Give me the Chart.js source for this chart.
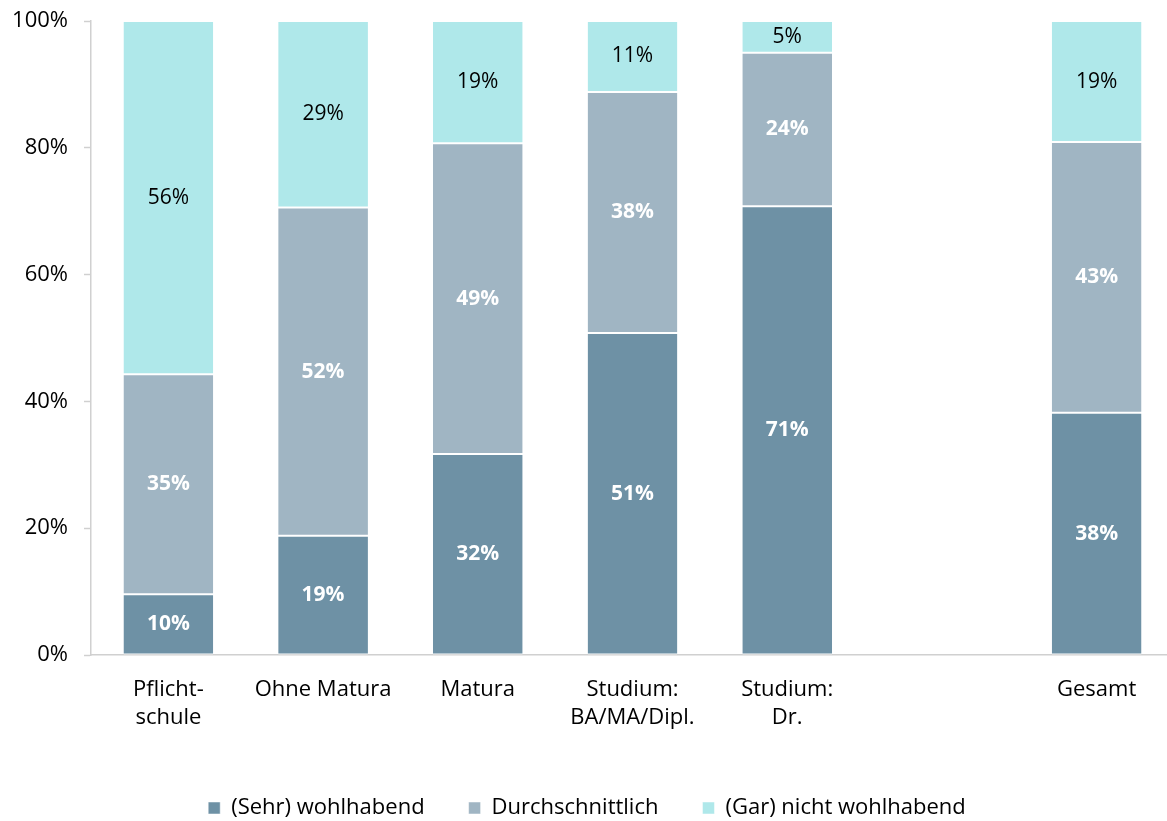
<!DOCTYPE html>
<html>
<head>
<meta charset="utf-8">
<script src="https://cdn.jsdelivr.net/npm/chart.js@4.4.1/dist/chart.umd.min.js"></script>
<style>
  html, body { margin: 0; padding: 0; background: #fff; overflow: hidden; }
  #wrap { width: 1175px; height: 829px; }
</style>
</head>
<body>
<div id="wrap"><canvas id="myChart"></canvas></div>
<script>
const kategorien = [["Pflicht-", "schule"], "Ohne Matura", "Matura", ["Studium:", "BA/MA/Dipl."], ["Studium:", "Dr."], "", "Gesamt"];
const wohlhabend = [9.6, 18.8, 31.7, 50.8, 70.8, null, 38.2];
const durchschnitt = [34.7, 51.8, 49.0, 38.0, 24.2, null, 42.7];
const nichtWohlhabend = [55.7, 29.4, 19.3, 11.2, 5.0, null, 19.1];
const yTicks = [0, 20, 40, 60, 80, 100];

const schrift = "'Open Sans', sans-serif";
const ctx = document.getElementById("myChart");

// eigene Beschriftung der Segmente (kein datalabels-Plugin verfuegbar)
const wertLabels = {
  id: "wertLabels",
  afterDatasetsDraw(chart) {
    const c = chart.ctx;
    chart.data.datasets.forEach((ds, i) => {
      const meta = chart.getDatasetMeta(i);
      meta.data.forEach((bar, j) => {
        const v = ds.data[j];
        if (v == null) return;
        c.save();
        c.textAlign = "center";
        c.textBaseline = "middle";
        if (i < 2) {
          c.fillStyle = "#ffffff";
          c.font = "bold 21px " + schrift;
        } else {
          c.fillStyle = "#000000";
          c.font = "21px " + schrift;
        }
        c.fillText(Math.round(v) + "%", bar.x, (bar.y + bar.base) / 2);
        c.restore();
      });
    });
  }
};

const rand = { top: 1, bottom: 1, left: 0, right: 0 };

new Chart(ctx, {
  type: "bar",
  data: {
    labels: kategorien,
    datasets: [
      { label: "(Sehr) wohlhabend", data: wohlhabend, backgroundColor: "#6E91A5", borderColor: "#ffffff", borderWidth: rand, borderSkipped: false },
      { label: "Durchschnittlich", data: durchschnitt, backgroundColor: "#A0B5C3", borderColor: "#ffffff", borderWidth: rand, borderSkipped: false },
      { label: "(Gar) nicht wohlhabend", data: nichtWohlhabend, backgroundColor: "#AFE8EA", borderColor: "#ffffff", borderWidth: rand, borderSkipped: false }
    ]
  },
  options: {
    responsive: true,
    maintainAspectRatio: false,
    animation: false,
    barPercentage: 0.58,
    categoryPercentage: 1.0,
    layout: { padding: { top: 21, right: 1, left: 0, bottom: 0 } },
    plugins: {
      tooltip: { enabled: false },
      legend: {
        position: "bottom",
        labels: {
          color: "#000",
          font: { size: 22, family: schrift },
          boxWidth: 12,
          boxHeight: 12,
          padding: 44
        }
      }
    },
    scales: {
      x: {
        stacked: true,
        grid: { display: false, drawTicks: false },
        border: { color: "#D0D0D0", width: 1.5 },
        ticks: {
          color: "#000",
          font: { size: 22, family: schrift, lineHeight: 1.25 },
          padding: 21,
          maxRotation: 0,
          autoSkip: false
        },
        afterFit(scale) { scale.height = 98; }
      },
      y: {
        stacked: true,
        min: 0,
        max: 100,
        afterBuildTicks(scale) { scale.ticks = yTicks.map(v => ({ value: v })); },
        grid: { drawOnChartArea: false, tickLength: 7, color: "#D0D0D0", tickWidth: 1.5 },
        border: { color: "#D0D0D0", width: 1.5 },
        ticks: {
          color: "#000",
          font: { size: 22, family: schrift },
          padding: 16,
          callback: v => v + "%"
        },
        afterFit(scale) {
          scale.width = 91;
          scale.paddingTop = 8;
          scale.paddingBottom = 8;
        }
      }
    }
  },
  plugins: [wertLabels]
});
</script>
</body>
</html>
